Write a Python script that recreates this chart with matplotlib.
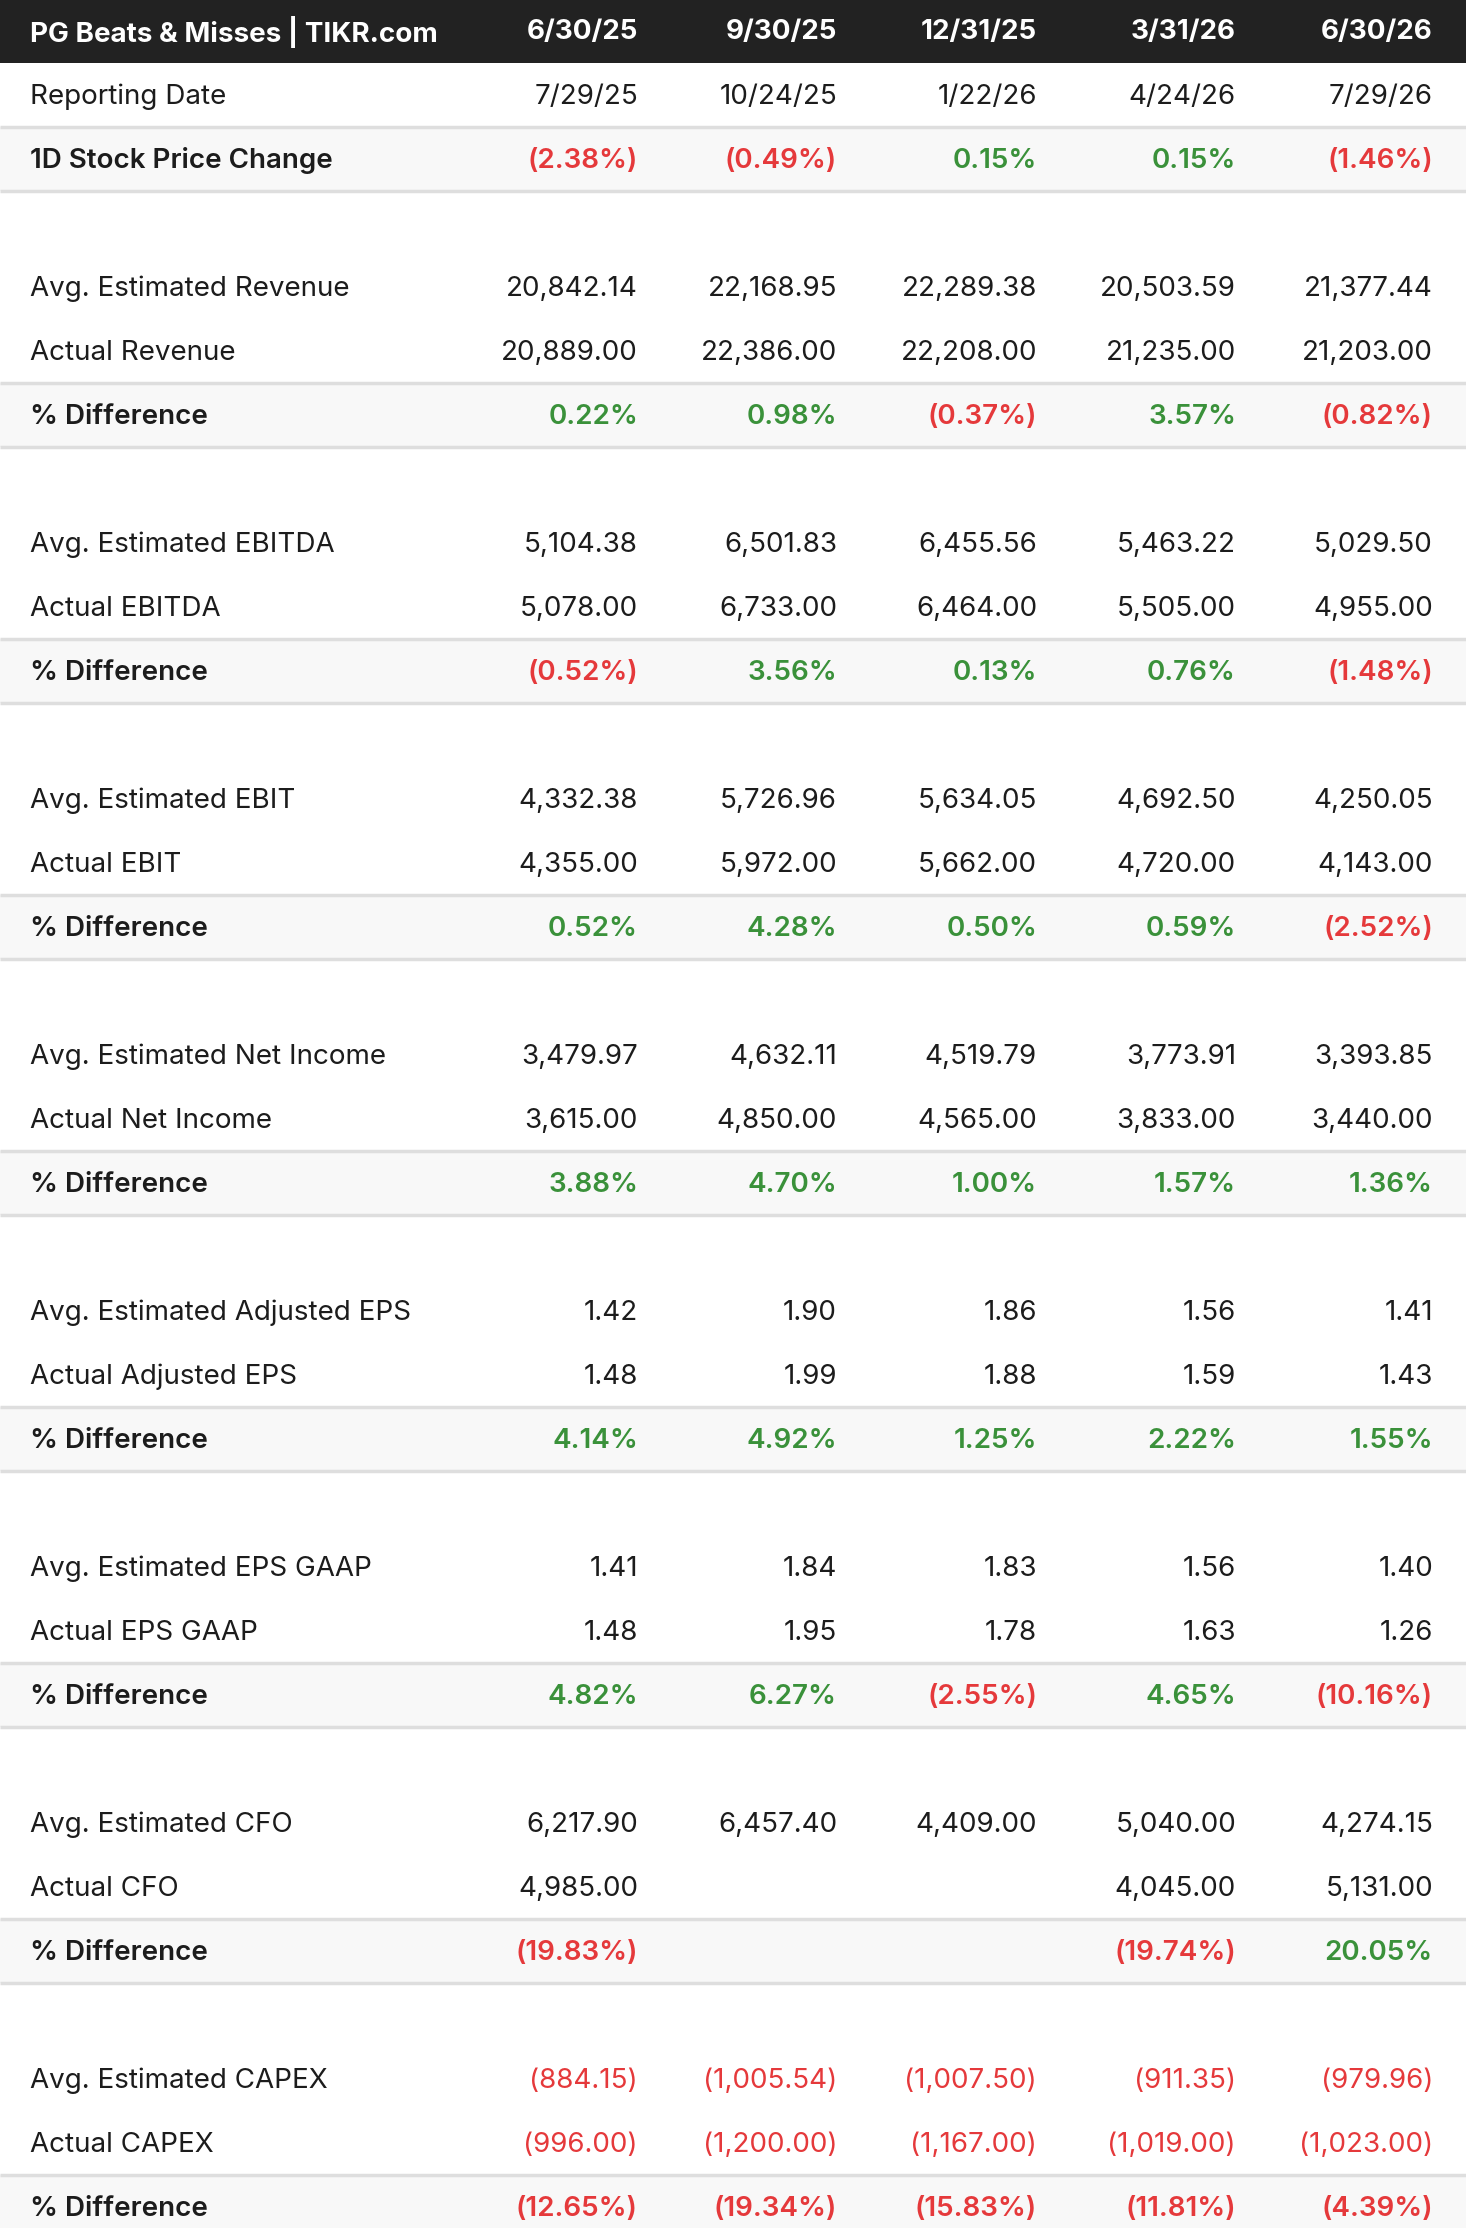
import matplotlib.pyplot as plt
from matplotlib.patches import Rectangle

plt.rcParams['font.family'] = ['Inter', 'DejaVu Sans']

W, H = 1466, 2228
C_HEAD = '#222222'
C_TEXT = '#1c1c1c'
C_RED = '#e5393b'
C_GREEN = '#3a913a'
C_SHADE = '#f8f8f8'
C_LINE = '#dedede'

title = 'PG Beats & Misses | TIKR.com'
periods = ['6/30/25', '9/30/25', '12/31/25', '3/31/26', '6/30/26']
report_dates = ['7/29/25', '10/24/25', '1/22/26', '4/24/26', '7/29/26']
price_change = [-2.38, -0.49, 0.15, 0.15, -1.46]

metrics = ['Revenue', 'EBITDA', 'EBIT', 'Net Income', 'Adjusted EPS', 'EPS GAAP', 'CFO', 'CAPEX']
est_revenue = [20842.14, 22168.95, 22289.38, 20503.59, 21377.44]
act_revenue = [20889.00, 22386.00, 22208.00, 21235.00, 21203.00]
pct_revenue = [0.22, 0.98, -0.37, 3.57, -0.82]
est_ebitda = [5104.38, 6501.83, 6455.56, 5463.22, 5029.50]
act_ebitda = [5078.00, 6733.00, 6464.00, 5505.00, 4955.00]
pct_ebitda = [-0.52, 3.56, 0.13, 0.76, -1.48]
est_ebit = [4332.38, 5726.96, 5634.05, 4692.50, 4250.05]
act_ebit = [4355.00, 5972.00, 5662.00, 4720.00, 4143.00]
pct_ebit = [0.52, 4.28, 0.50, 0.59, -2.52]
est_ni = [3479.97, 4632.11, 4519.79, 3773.91, 3393.85]
act_ni = [3615.00, 4850.00, 4565.00, 3833.00, 3440.00]
pct_ni = [3.88, 4.70, 1.00, 1.57, 1.36]
est_adj_eps = [1.42, 1.90, 1.86, 1.56, 1.41]
act_adj_eps = [1.48, 1.99, 1.88, 1.59, 1.43]
pct_adj_eps = [4.14, 4.92, 1.25, 2.22, 1.55]
est_eps_gaap = [1.41, 1.84, 1.83, 1.56, 1.40]
act_eps_gaap = [1.48, 1.95, 1.78, 1.63, 1.26]
pct_eps_gaap = [4.82, 6.27, -2.55, 4.65, -10.16]
est_cfo = [6217.90, 6457.40, 4409.00, 5040.00, 4274.15]
act_cfo = [4985.00, None, None, 4045.00, 5131.00]
pct_cfo = [-19.83, None, None, -19.74, 20.05]
est_capex = [-884.15, -1005.54, -1007.50, -911.35, -979.96]
act_capex = [-996.00, -1200.00, -1167.00, -1019.00, -1023.00]
pct_capex = [-12.65, -19.34, -15.83, -11.81, -4.39]

blocks = [
    (est_revenue, act_revenue, pct_revenue),
    (est_ebitda, act_ebitda, pct_ebitda),
    (est_ebit, act_ebit, pct_ebit),
    (est_ni, act_ni, pct_ni),
    (est_adj_eps, act_adj_eps, pct_adj_eps),
    (est_eps_gaap, act_eps_gaap, pct_eps_gaap),
    (est_cfo, act_cfo, pct_cfo),
    (est_capex, act_capex, pct_capex),
]


def fmt_num(v):
    if v is None:
        return '', C_TEXT
    s = f'{abs(v):,.2f}'
    return (f'({s})', C_RED) if v < 0 else (s, C_TEXT)


def fmt_pct(v):
    if v is None:
        return '', C_TEXT
    s = f'{abs(v):.2f}%'
    return (f'({s})', C_RED) if v < 0 else (s, C_GREEN)


# rows: (label, cells, shaded); None = spacer row
rows = [('Reporting Date', [(d, C_TEXT) for d in report_dates], False),
        ('1D Stock Price Change', [fmt_pct(v) for v in price_change], True)]
for name, (est, act, pct) in zip(metrics, blocks):
    rows.append(None)
    rows.append((f'Avg. Estimated {name}', [fmt_num(v) for v in est], False))
    rows.append((f'Actual {name}', [fmt_num(v) for v in act], False))
    rows.append(('% Difference', [fmt_pct(v) for v in pct], True))

fig = plt.figure(figsize=(W / 100, H / 100), dpi=100)
ax = fig.add_axes([0, 0, 1, 1])
ax.set_xlim(0, W)
ax.set_ylim(H, 0)
ax.axis('off')

head_h = 63
row_h = 64
label_x = 30
col_right = [638, 837, 1037, 1236, 1433]
fs = 20
dy = 2

ax.add_patch(Rectangle((0, 0), W, head_h, facecolor=C_HEAD, edgecolor='none'))
ax.text(label_x, head_h / 2, title, color='white', fontsize=20, fontweight='bold',
        ha='left', va='center')
for x, p in zip(col_right, periods):
    ax.text(x, head_h / 2, p, color='white', fontsize=20, fontweight='bold',
            ha='right', va='center')

for i, row in enumerate(rows):
    if row is None:
        continue
    top = head_h + i * row_h
    yc = top + row_h / 2 + dy
    label, cells, shaded = row
    weight = 'semibold' if shaded else 'normal'
    if shaded:
        ax.add_patch(Rectangle((0, top), W, row_h, facecolor=C_SHADE, edgecolor='none'))
        ax.plot([0, W], [top, top], color=C_LINE, lw=2.5, solid_capstyle='butt')
        ax.plot([0, W], [top + row_h, top + row_h], color=C_LINE, lw=2.5, solid_capstyle='butt')
    ax.text(label_x, yc, label, color=C_TEXT, fontsize=fs, fontweight=weight,
            ha='left', va='center')
    for x, (s, c) in zip(col_right, cells):
        ax.text(x, yc, s, color=c, fontsize=fs, fontweight=weight, ha='right', va='center')

fig.savefig('out.png', dpi=100)
